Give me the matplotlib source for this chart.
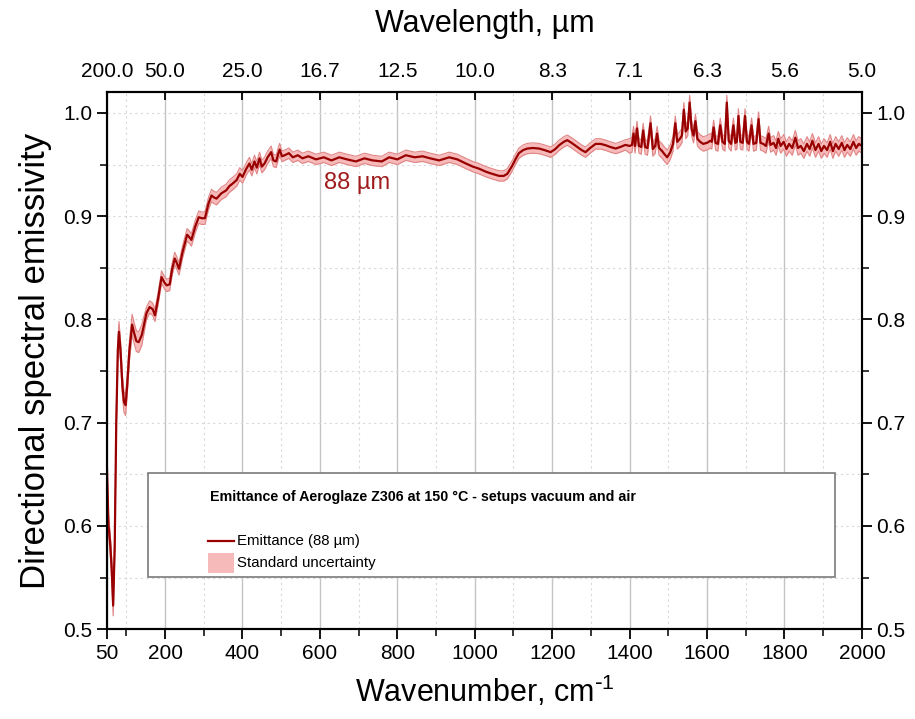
import numpy as np
import matplotlib
matplotlib.use("Agg")
import matplotlib.pyplot as plt
from matplotlib.patches import Rectangle
from matplotlib.lines import Line2D
from matplotlib.ticker import MultipleLocator

plt.rcParams['font.family'] = ['Liberation Sans', 'DejaVu Sans']
plt.rcParams['mathtext.default'] = 'regular'

# wavenumber (cm-1) and emissivity
wn = [50, 54, 58, 62, 66, 70, 74, 78, 81, 85, 90, 94, 98, 102, 108, 115, 120, 126, 132, 140,
      152, 160, 168, 174, 182, 191, 198, 204, 212, 218, 225, 230, 236, 245, 257, 262, 268, 278,
      287, 295, 303, 312, 320, 327, 333, 345, 358, 366, 376, 385, 393, 400, 410, 418, 424, 431,
      437, 444, 450, 457, 465, 474, 480, 487, 492, 496, 502, 509, 520, 530, 543, 555, 570, 590,
      610, 630, 650, 670, 693, 715, 736, 760, 779, 800, 822, 845, 865, 885, 908, 934, 955, 977,
      995, 1011, 1029, 1045, 1063, 1075, 1084, 1097, 1105, 1114, 1125, 1136, 1150, 1166, 1180,
      1196, 1208, 1218, 1230, 1239, 1250, 1265, 1276, 1286, 1298, 1312, 1325, 1338, 1350, 1364,
      1376, 1389, 1400, 1406, 1410, 1414, 1419, 1424, 1430, 1435, 1440, 1446, 1454, 1460, 1466,
      1471, 1476, 1484, 1490, 1497, 1505, 1512, 1518, 1523, 1530, 1535, 1540, 1545, 1550, 1555,
      1560, 1565, 1570, 1575, 1582, 1590, 1600, 1608, 1612, 1617, 1622, 1628, 1634, 1640, 1646,
      1651, 1656, 1662, 1668, 1673, 1677, 1681, 1686, 1692, 1698, 1703, 1708, 1715, 1720, 1727,
      1733, 1738, 1745, 1752, 1759, 1764, 1772, 1778, 1784, 1790, 1798, 1805, 1812, 1820, 1828,
      1835, 1842, 1850, 1858, 1865, 1872, 1880, 1888, 1895, 1902, 1910, 1918, 1925, 1932, 1940,
      1948, 1955, 1962, 1970, 1978, 1985, 1992, 2000]
emis = [0.655, 0.600, 0.585, 0.560, 0.523, 0.580, 0.700, 0.770, 0.788, 0.770, 0.735, 0.720,
        0.717, 0.735, 0.770, 0.795, 0.787, 0.779, 0.778, 0.785, 0.806, 0.812, 0.810, 0.804,
        0.820, 0.841, 0.836, 0.833, 0.834, 0.848, 0.859, 0.855, 0.849, 0.865, 0.882, 0.880,
        0.877, 0.890, 0.899, 0.898, 0.898, 0.912, 0.920, 0.918, 0.917, 0.922, 0.925, 0.929,
        0.932, 0.935, 0.941, 0.938, 0.946, 0.951, 0.945, 0.953, 0.947, 0.956, 0.948, 0.951,
        0.957, 0.962, 0.954, 0.953, 0.960, 0.9645, 0.958, 0.959, 0.961, 0.957, 0.959, 0.956,
        0.958, 0.955, 0.957, 0.954, 0.957, 0.955, 0.953, 0.956, 0.954, 0.953, 0.957, 0.955,
        0.959, 0.957, 0.958, 0.956, 0.954, 0.957, 0.955, 0.951, 0.948, 0.946, 0.943, 0.941,
        0.939, 0.939, 0.941, 0.949, 0.955, 0.961, 0.964, 0.9655, 0.966, 0.9655, 0.964, 0.962,
        0.965, 0.9687, 0.972, 0.9736, 0.971, 0.967, 0.964, 0.962, 0.966, 0.970, 0.970, 0.9687,
        0.967, 0.9655, 0.967, 0.969, 0.968, 0.969, 0.980, 0.968, 0.985, 0.968, 0.967, 0.983,
        0.967, 0.966, 0.990, 0.965, 0.968, 0.980, 0.966, 0.963, 0.960, 0.957, 0.962, 0.970,
        0.990, 0.972, 0.975, 0.978, 1.003, 0.982, 0.985, 1.010, 0.985, 0.978, 0.992, 0.975,
        0.972, 0.970, 0.971, 0.973, 0.972, 0.986, 0.971, 0.970, 0.988, 0.972, 0.970, 1.010,
        0.973, 0.970, 0.988, 0.971, 0.972, 0.997, 0.972, 0.971, 0.997, 0.972, 0.970, 0.988,
        0.970, 0.971, 0.994, 0.971, 0.970, 0.968, 0.980, 0.969, 0.971, 0.966, 0.975, 0.968,
        0.972, 0.965, 0.970, 0.966, 0.976, 0.966, 0.968, 0.963, 0.970, 0.965, 0.973, 0.964,
        0.970, 0.963, 0.968, 0.964, 0.972, 0.963, 0.970, 0.965, 0.971, 0.964, 0.969, 0.965,
        0.972, 0.966, 0.970, 0.968]

# standard uncertainty read per region: (upper wavenumber of region, half width)
unc_edges = [150, 500, 1400, 2001]
unc_vals = [0.010, 0.006, 0.005, 0.007]

xticks = [50, 200, 400, 600, 800, 1000, 1200, 1400, 1600, 1800, 2000]
top_labels = ['200.0', '50.0', '25.0', '16.7', '12.5', '10.0', '8.3', '7.1', '6.3', '5.6', '5.0']

wn = np.array(wn, dtype=float)
emis = np.array(emis)
unc = np.array(unc_vals)[np.searchsorted(unc_edges, wn, side='right').clip(0, len(unc_vals) - 1)]

line_col = '#990000'
band_col = '#f7baba'
band_edge = '#e08585'

fig = plt.figure(figsize=(9.15, 7.19), dpi=100)
ax = fig.add_axes([0.1169, 0.1248, 0.8251, 0.7469])

ax.fill_between(wn, emis - unc, emis + unc, color=band_col, lw=0, zorder=2)
ax.plot(wn, emis - unc, color=band_edge, lw=0.8, zorder=2)
ax.plot(wn, emis + unc, color=band_edge, lw=0.8, zorder=2)
ax.plot(wn, emis, color=line_col, lw=1.6, zorder=3)

ax.set_xlim(50, 2000)
ax.set_ylim(0.5, 1.02)
ax.set_xticks(xticks)
ax.xaxis.set_minor_locator(MultipleLocator(100))
ax.yaxis.set_major_locator(MultipleLocator(0.1))
ax.yaxis.set_minor_locator(MultipleLocator(0.05))

ax.grid(which='major', axis='x', color='#c4c4c4', lw=1.0, ls='-', zorder=0)
ax.grid(which='minor', axis='x', color='#d8d8d8', lw=0.8, ls=(0, (2, 3)), zorder=0)
ax.grid(which='both', axis='y', color='#d8d8d8', lw=0.8, ls=(0, (2, 3)), zorder=0)
ax.set_axisbelow(True)

ax.tick_params(which='major', direction='out', length=7, width=1.3, labelsize=15,
               left=True, right=True, labelleft=True, labelright=True, top=False)
ax.tick_params(which='minor', direction='out', length=5, width=1.1, left=True, right=True, top=False)
for s in ax.spines.values():
    s.set_linewidth(1.5)

ax.set_xlabel(r'Wavenumber, cm$^{\text{-}1}$', fontsize=22, labelpad=8)
ax.set_ylabel('Directional spectral emissivity', fontsize=25, labelpad=8)

ax2 = ax.twiny()
ax2.set_xlim(ax.get_xlim())
ax2.set_xticks(xticks)
ax2.set_xticklabels(top_labels)
ax2.tick_params(direction='in', length=6, width=1.3, labelsize=15, pad=8)
ax2.set_xlabel('Wavelength, µm', fontsize=22, labelpad=22)
for s in ax2.spines.values():
    s.set_linewidth(1.5)

ax.text(697, 0.932, '88 µm', color='#a01c1c', fontsize=17, ha='center', va='center')

# legend box
ax.add_patch(Rectangle((0.0543, 0.0974), 0.9099, 0.1936, transform=ax.transAxes,
                       facecolor='white', edgecolor='#7a7a7a', lw=1.2, zorder=5))
ax.text(0.1364, 0.2464, 'Emittance of Aeroglaze Z306 at 150 °C - setups vacuum and air',
        transform=ax.transAxes, fontsize=10.3, fontweight='bold',
        va='center', ha='left', zorder=6)
ax.add_line(Line2D([0.1338, 0.1682], [0.1644, 0.1644], transform=ax.transAxes,
                   color=line_col, lw=1.6, zorder=6))
ax.text(0.1722, 0.1644, 'Emittance (88 µm)', transform=ax.transAxes, fontsize=10.8,
        va='center', ha='left', zorder=6)
ax.add_patch(Rectangle((0.1338, 0.1048), 0.0344, 0.0373, transform=ax.transAxes,
                       facecolor=band_col, edgecolor='none', zorder=6))
ax.text(0.1722, 0.1235, 'Standard uncertainty', transform=ax.transAxes, fontsize=10.8,
        va='center', ha='left', zorder=6)

fig.savefig('out.png', dpi=100)
